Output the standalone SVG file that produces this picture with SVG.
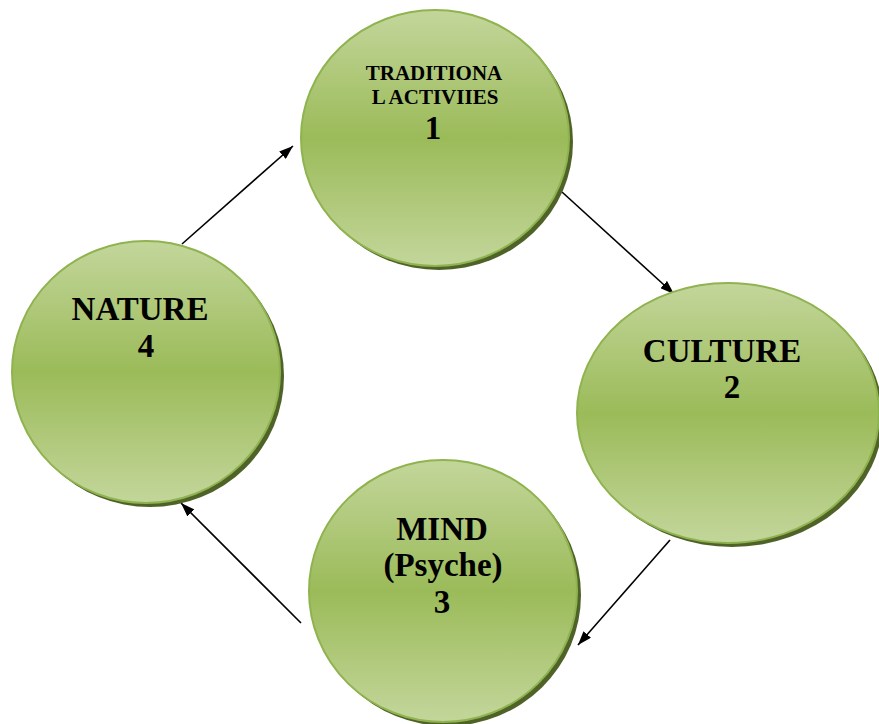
<svg xmlns="http://www.w3.org/2000/svg" width="879" height="724" viewBox="0 0 879 724">
<defs>
<linearGradient id="g" x1="0" y1="0" x2="0" y2="1">
<stop offset="0" stop-color="#c3d69b"/>
<stop offset="0.5" stop-color="#9bbb59"/>
<stop offset="1" stop-color="#c3d69b"/>
</linearGradient>
<marker id="ah" markerWidth="14" markerHeight="10" refX="14" refY="5" orient="auto" markerUnits="userSpaceOnUse">
<path d="M0,0 L14,5 L0,10 Z" fill="#000"/>
</marker>
</defs>
<style>
.sh{fill:#4f6228}
.c{fill:url(#g);stroke:#8fb34f;stroke-width:2}
.t{font-family:"Liberation Serif","Times New Roman",serif;font-weight:bold;fill:#000;text-anchor:middle}
.big{font-size:33px}
.sm{font-size:21px}
.ln{stroke:#000;stroke-width:1.6;fill:none;marker-end:url(#ah)}
</style>
<rect width="879" height="724" fill="#fff"/>
<g id="connectors">
<line class="ln" x1="182" y1="244" x2="293" y2="146"/>
<line class="ln" x1="562" y1="192" x2="674" y2="294"/>
<line class="ln" x1="670" y1="540" x2="578" y2="645"/>
<line class="ln" x1="301" y1="623" x2="181" y2="503"/>
</g>
<g id="node1">
<ellipse class="sh" cx="439" cy="142" rx="134" ry="128"/>
<ellipse class="c" cx="435" cy="138" rx="134" ry="128"/>
<text class="t sm" x="434" y="80">TRADITIONA</text>
<text class="t sm" x="435" y="104">L ACTIVIIES</text>
<text class="t big" x="433" y="139">1</text>
</g>
<g id="node2">
<ellipse class="sh" cx="732" cy="417" rx="151" ry="130"/>
<ellipse class="c" cx="728" cy="413" rx="151" ry="130"/>
<text class="t big" x="722" y="362">CULTURE</text>
<text class="t big" x="732" y="398">2</text>
</g>
<g id="node3">
<ellipse class="sh" cx="447" cy="595" rx="134" ry="131"/>
<ellipse class="c" cx="443" cy="591" rx="134" ry="131"/>
<text class="t big" x="442" y="540">MIND</text>
<text class="t big" x="443" y="576">(Psyche)</text>
<text class="t big" x="442" y="613">3</text>
</g>
<g id="node4">
<ellipse class="sh" cx="150" cy="376" rx="134" ry="131"/>
<ellipse class="c" cx="146" cy="372" rx="134" ry="131"/>
<text class="t big" x="140" y="320">NATURE</text>
<text class="t big" x="146" y="357">4</text>
</g>
</svg>
